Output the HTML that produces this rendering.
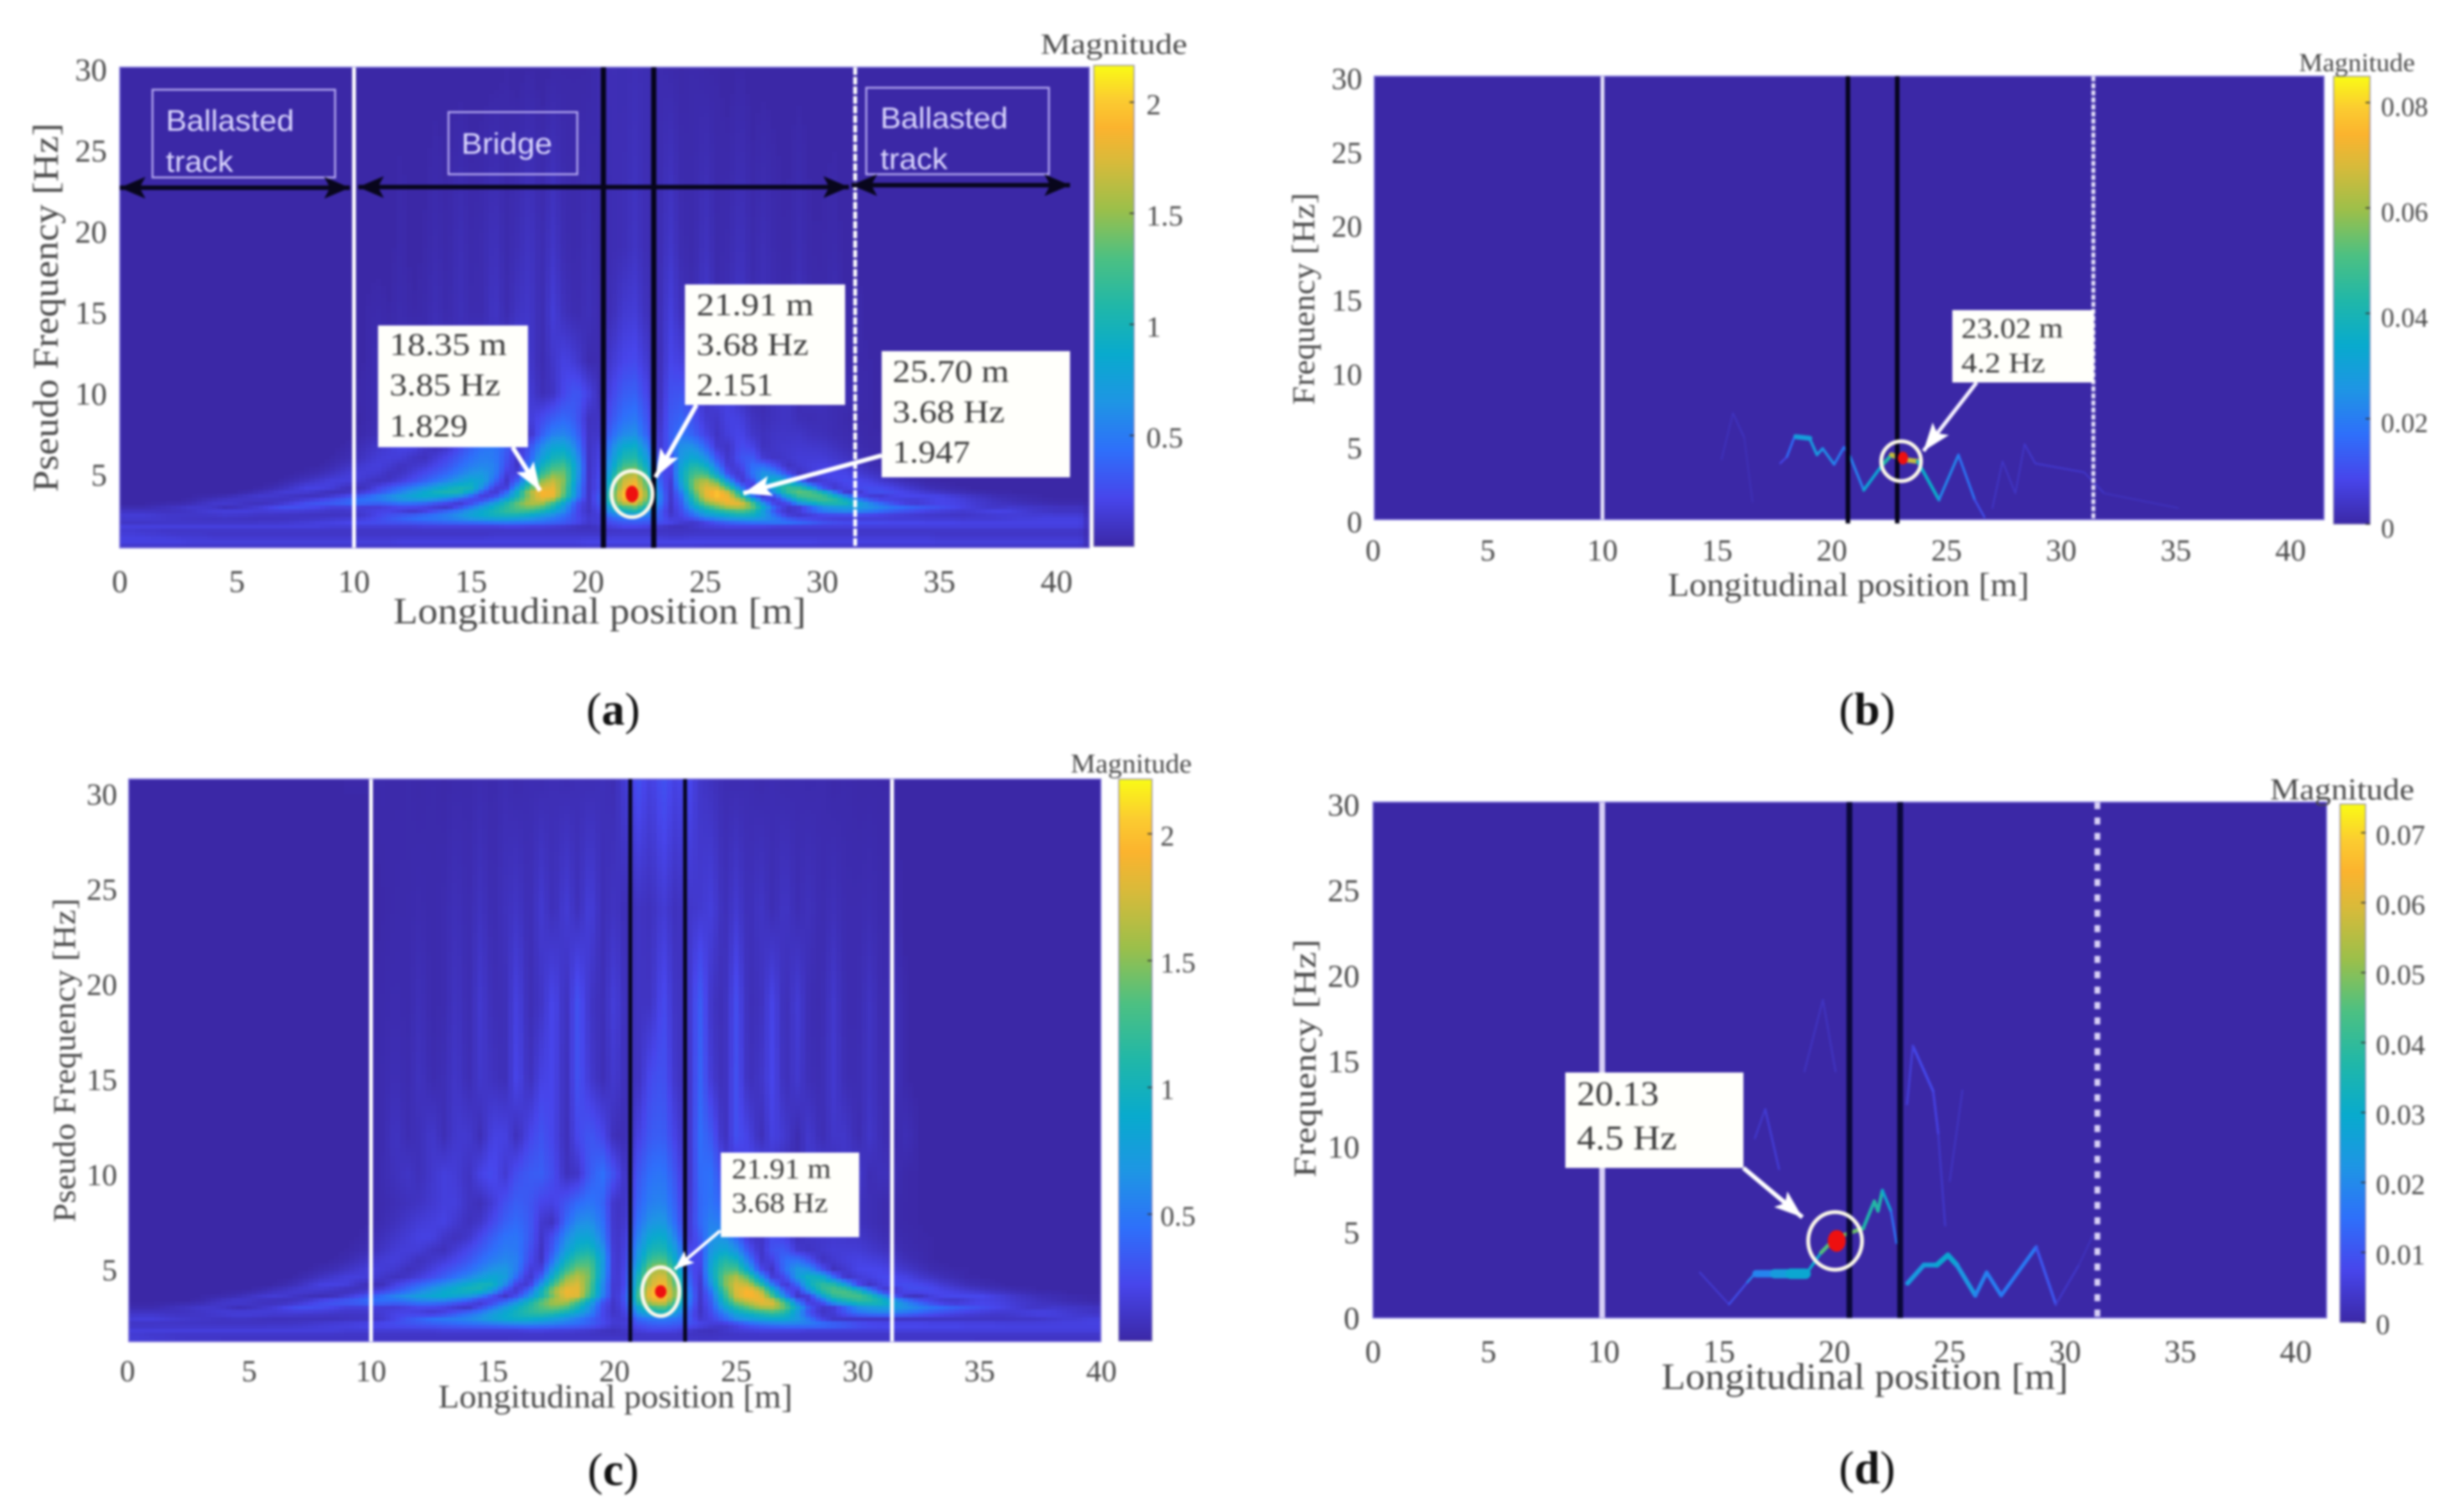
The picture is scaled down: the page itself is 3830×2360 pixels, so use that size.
<!DOCTYPE html>
<html lang="en">
<head>
<meta charset="utf-8">
<title>Scalogram and spectrogram panels</title>
<style>
html,body{margin:0;padding:0;background:#fff}
svg{display:block;filter:blur(1.8px)}
text{font-family:"Liberation Serif",serif;fill:#4a4a4a}
.s{font-family:"Liberation Sans",sans-serif;fill:#dcd8ff;font-size:46px}
.n{fill:#3a3a3a}
.cap{fill:#111;font-size:72px}
</style>
</head>
<body>
<svg id="figure" xmlns="http://www.w3.org/2000/svg" width="3830" height="2360" viewBox="0 0 3830 2360">
<defs>
<linearGradient id="cb-grad" x1="0" y1="1" x2="0" y2="0"></linearGradient>
<marker id="m-black" markerUnits="userSpaceOnUse" markerWidth="40" markerHeight="34" viewBox="0 0 40 34" refX="40" refY="17" orient="auto-start-reverse"><path d="M40,17 L0,0 L9,17 L0,34 z" fill="#08061c"/></marker>
<marker id="m-white" markerUnits="userSpaceOnUse" markerWidth="44" markerHeight="32" viewBox="0 0 44 32" refX="44" refY="16" orient="auto"><path d="M44,16 L0,0 L9,16 L0,32 z" fill="#fff"/></marker>
<marker id="m-white-s" markerUnits="userSpaceOnUse" markerWidth="30" markerHeight="24" viewBox="0 0 30 24" refX="30" refY="12" orient="auto"><path d="M30,12 L0,0 L6,12 L0,24 z" fill="#fff"/></marker>
</defs>
<rect x="0" y="0" width="3830" height="2360" fill="#ffffff"/>
<g id="marks"></g>

<g>
  <g>
    <rect x="238" y="140" width="285" height="137" fill="none" stroke="#b4a8f0" stroke-width="3"/>
    <text class="s" x="259" y="204" textLength="200" lengthAdjust="spacingAndGlyphs">Ballasted</text>
    <text class="s" x="259" y="268" textLength="105" lengthAdjust="spacingAndGlyphs">track</text>
  </g>
  <g>
    <rect x="700" y="175" width="201" height="97" fill="none" stroke="#b4a8f0" stroke-width="3"/>
    <text class="s" x="720" y="240" textLength="142" lengthAdjust="spacingAndGlyphs">Bridge</text>
  </g>
  <g>
    <rect x="1352" y="137" width="285" height="135" fill="none" stroke="#b4a8f0" stroke-width="3"/>
    <text class="s" x="1374" y="200" textLength="199" lengthAdjust="spacingAndGlyphs">Ballasted</text>
    <text class="s" x="1374" y="264" textLength="105" lengthAdjust="spacingAndGlyphs">track</text>
  </g>
  <line x1="187" y1="293" x2="546" y2="293" stroke="#08061c" stroke-width="7" marker-start="url(#m-black)" marker-end="url(#m-black)"/>
  <line x1="559" y1="292" x2="1325" y2="292" stroke="#08061c" stroke-width="7" marker-start="url(#m-black)" marker-end="url(#m-black)"/>
  <line x1="1329" y1="289" x2="1670" y2="289" stroke="#08061c" stroke-width="7" marker-start="url(#m-black)" marker-end="url(#m-black)"/>
  <line x1="800" y1="698" x2="843" y2="766" stroke="#fff" stroke-width="7" marker-end="url(#m-white)"/>
  <line x1="1087" y1="632" x2="1023" y2="745" stroke="#fff" stroke-width="7" marker-end="url(#m-white)"/>
  <line x1="1376" y1="711" x2="1160" y2="770" stroke="#fff" stroke-width="7" marker-end="url(#m-white)"/>
  <g>
    <rect x="590" y="508" width="234" height="190" fill="#fffffb"/>
    <text class="n" x="608" y="554" font-size="50" textLength="183" lengthAdjust="spacingAndGlyphs">18.35 m</text>
    <text class="n" x="608" y="617" font-size="50" textLength="173" lengthAdjust="spacingAndGlyphs">3.85 Hz</text>
    <text class="n" x="608" y="681" font-size="50" textLength="122" lengthAdjust="spacingAndGlyphs">1.829</text>
  </g>
  <g>
    <rect x="1069" y="444" width="250" height="188" fill="#fffffb"/>
    <text class="n" x="1087" y="492" font-size="50" textLength="183" lengthAdjust="spacingAndGlyphs">21.91 m</text>
    <text class="n" x="1087" y="554" font-size="50" textLength="175" lengthAdjust="spacingAndGlyphs">3.68 Hz</text>
    <text class="n" x="1087" y="617" font-size="50" textLength="120" lengthAdjust="spacingAndGlyphs">2.151</text>
  </g>
  <g>
    <rect x="1376" y="548" width="294" height="197" fill="#fffffb"/>
    <text class="n" x="1393" y="596" font-size="50" textLength="182" lengthAdjust="spacingAndGlyphs">25.70 m</text>
    <text class="n" x="1393" y="659" font-size="50" textLength="175" lengthAdjust="spacingAndGlyphs">3.68 Hz</text>
    <text class="n" x="1393" y="722" font-size="50" textLength="121" lengthAdjust="spacingAndGlyphs">1.947</text>
  </g>
  <text x="1624" y="84" font-size="46" textLength="229" lengthAdjust="spacingAndGlyphs">Magnitude</text>
  <text x="614" y="973" font-size="58" textLength="644" lengthAdjust="spacingAndGlyphs">Longitudinal position [m]</text>
  <text transform="translate(90,768) rotate(-90)" font-size="56" textLength="576" lengthAdjust="spacingAndGlyphs">Pseudo Frequency [Hz]</text>
  <text class="cap" x="957" y="1131" text-anchor="middle">(<tspan font-weight="bold" class="cap">a</tspan>)</text>
</g>

<g>
  <line x1="3085" y1="597" x2="3002" y2="704" stroke="#f4f0ff" stroke-width="6" marker-end="url(#m-white)"/>
  <g>
    <rect x="3047" y="484" width="221" height="113" fill="#fffffb"/>
    <text class="n" x="3061" y="527" font-size="44" textLength="159" lengthAdjust="spacingAndGlyphs">23.02 m</text>
    <text class="n" x="3061" y="581" font-size="44" textLength="131" lengthAdjust="spacingAndGlyphs">4.2 Hz</text>
  </g>
  <text x="3588" y="111" font-size="40" textLength="181" lengthAdjust="spacingAndGlyphs">Magnitude</text>
  <text x="2603" y="930" font-size="52" textLength="564" lengthAdjust="spacingAndGlyphs">Longitudinal position [m]</text>
  <text transform="translate(2051,632) rotate(-90)" font-size="50" textLength="331" lengthAdjust="spacingAndGlyphs">Frequency [Hz]</text>
  <text class="cap" x="2914" y="1131" text-anchor="middle">(<tspan font-weight="bold" class="cap">b</tspan>)</text>
</g>

<g>
  <line x1="1124" y1="1921" x2="1053" y2="1981" stroke="#fff" stroke-width="5" marker-end="url(#m-white-s)"/>
  <g>
    <rect x="1125" y="1799" width="216" height="132" fill="#fffffb"/>
    <text class="n" x="1142" y="1839" font-size="44" textLength="155" lengthAdjust="spacingAndGlyphs">21.91 m</text>
    <text class="n" x="1142" y="1892" font-size="44" textLength="150" lengthAdjust="spacingAndGlyphs">3.68 Hz</text>
  </g>
  <text x="1671" y="1206" font-size="42" textLength="189" lengthAdjust="spacingAndGlyphs">Magnitude</text>
  <text x="684" y="2197" font-size="52" textLength="553" lengthAdjust="spacingAndGlyphs">Longitudinal position [m]</text>
  <text transform="translate(117,1908) rotate(-90)" font-size="50" textLength="506" lengthAdjust="spacingAndGlyphs">Pseudo Frequency [Hz]</text>
  <text class="cap" x="957" y="2318" text-anchor="middle">(<tspan font-weight="bold" class="cap">c</tspan>)</text>
</g>

<g>
  <line x1="2721" y1="1823" x2="2813" y2="1900" stroke="#fff" stroke-width="7" marker-end="url(#m-white)"/>
  <g>
    <rect x="2443" y="1674" width="278" height="149" fill="#fffffb"/>
    <text class="n" x="2461" y="1725" font-size="54" textLength="128" lengthAdjust="spacingAndGlyphs">20.13</text>
    <text class="n" x="2461" y="1794" font-size="54" textLength="156" lengthAdjust="spacingAndGlyphs">4.5 Hz</text>
  </g>
  <text x="3543" y="1248" font-size="48" textLength="225" lengthAdjust="spacingAndGlyphs">Magnitude</text>
  <text x="2593" y="2168" font-size="58" textLength="635" lengthAdjust="spacingAndGlyphs">Longitudinal position [m]</text>
  <text transform="translate(2053,1838) rotate(-90)" font-size="50" textLength="372" lengthAdjust="spacingAndGlyphs">Frequency [Hz]</text>
  <text class="cap" x="2914" y="2315" text-anchor="middle">(<tspan font-weight="bold" class="cap">d</tspan>)</text>
</g>
</svg>

<script>
// ---- axis tick values ----
const xTickValues = [0,5,10,15,20,25,30,35,40];
const yTicksA = [5,10,15,20,25,30];
const yTicksB = [0,5,10,15,20,25,30];
const yTicksC = [5,10,15,20,25,30];
const yTicksD = [0,5,10,15,20,25,30];
const cbarTicksA = [0.5,1,1.5,2];
const cbarLabelsA = ['0.5','1','1.5','2'];
const cbarTicksB = [0,0.02,0.04,0.06,0.08];
const cbarLabelsB = ['0','0.02','0.04','0.06','0.08'];
const cbarTicksC = [0.5,1,1.5,2];
const cbarLabelsC = ['0.5','1','1.5','2'];
const cbarTicksD = [0,0.01,0.02,0.03,0.04,0.05,0.06,0.07];
const cbarLabelsD = ['0','0.01','0.02','0.03','0.04','0.05','0.06','0.07'];

// ---- structural position markers (metres) ----
const solidLinesA = [10];
const dashLinesA = [31.4];
const blackLinesA = [20.65,22.8];
const solidLinesB = [10];
const dashLinesB = [31.4];
const blackLinesB = [20.7,22.85];
const solidLinesC = [10,31.4];
const dashLinesC = [];
const blackLinesC = [20.65,22.9];
const solidLinesD = [9.93];
const dashLinesD = [31.4];
const blackLinesD = [20.65,22.85];

// ---- picked peaks (metres, Hz) ----
const peakX = [21.87,23.1,21.9,20.1];
const peakF = [3.81,4.16,3.84,4.5];
const ringX = [21.87,23.02,21.9,20.03];
const ringF = [3.81,3.95,3.84,4.5];

// ---- scalogram low-frequency band (a) and (c) which share this structure ----
// magnitude x100, columns every 0.5 m from 0 m; trailing columns omitted are background
const heatFreqLow = [1.2,1.5,1.8,2.1,2.4,2.7,3.0,3.3,3.6,3.9,4.2,4.6,5.0,5.5,6,6.7];
const heatLow = [
[22,22,22,20,20,18,18,18,16,16, 16,16,16,16,16,16,16,16,16,16, 16,16,16,16,16,16,16,16,16,16, 16,16,18,18,18,18,18,18,18,18, 18,18,20,20,20,20,18,16,16,18, 18,18,18,18,18,18,18,18,18,18, 18,18,18,18,18,18,18,18,18,18, 16,16,16,16,16,16,16,16,16,16, 16,16,16],
[18,18,16,16,14,14,14,14,14,14, 14,14,14,14,14,14,14,14,14,14, 14,14,14,14,14,14,14,14,14,14, 14,14,14,14,14,14,14,14,14,14, 14,14,14,14,14,14,14,14,14,14, 14,14,14,14,14,14,14,14,14,14, 14,14,14,14,14,14,14,14,14,14, 14,14,14,14,14,14,14,14,14,14, 14,14,14],
[22,22,22,22,22,22,22,22,22,22, 22,22,22,22,22,22,22,22,20,20, 20,20,20,20,20,20,22,22,22,22, 22,22,22,24,24,22,22,20,18,14, 12,16,22,26,26,24,18,13,12,16, 20,22,24,24,24,24,22,22,22,22, 22,22,22,22,22,22,22,22,22,22, 22,22,22,22,22,22,22,22,22,22, 22,22,22],
[13,13,13,14,14,14,14,14,14,14, 14,14,15,15,16,18,20,22,24,26, 28,30,32,34,36,38,40,43,46,48, 50,53,56,58,56,54,50,46,40,30, 18,22,32,38,40,38,34,28,20,16, 24,36,44,50,54,56,58,56,50,44, 36,32,30,30,30,30,28,28,28,26, 26,26,24,24,24,24,24,24,24,24, 24,24,24],
[20,22,22,20,18,17,16,15,14,15, 14,13,12,12,12,12,12,12,13,14, 14,18,26,35,42,50,55,58,62,70, 82,90,96,95,90,80,68,55,42,28, 18,20,45,54,56,50,40,18,25,42, 65,75,85,90,90,75,52,25,15,14, 14,14,14,14,14,14,14,14,14,14, 14,14,14,15,15,16,18,20,20,22, 22,22,22],
[15,15,15,14,13,14,15,18,21,23, 23,22,20,20,19,18,17,16,15,15, 16,20,25,25,20,14,22,35,48,60, 78,92,105,118,122,115,100,82,60,28, 14,25,70,90,100,75,40,14,30,55, 85,100,112,125,112,75,30,14,20,35, 50,56,58,55,50,42,35,30,26,22, 20,18,17,20,24,26,24,20,17,15, 14,14,14],
[8,8,8,10,12,14,17,17,15,10, 12,16,20,26,32,32,30,26,22,22, 22,20,20,24,28,28,24,18,14,30, 50,72,95,115,135,145,135,105,70,30, 14,30,90,125,140,100,50,14,35,80, 115,140,160,165,140,85,35,16,20,42, 65,72,78,74,68,60,52,46,40,36, 32,28,24,20,16,15,17,16,15,14, 13,13,13],
[5,5,5,5,6,6,7,12,17,20, 17,12,10,10,14,22,32,38,42,46, 52,50,46,50,56,54,50,40,30,14, 24,45,70,105,140,165,165,130,85,35, 14,36,120,175,185,130,60,15,40,100, 150,170,190,185,130,55,15,30,78,100, 118,120,112,85,60,40,25,14,12,18, 24,24,22,18,16,13,11,9,8,7, 6,6,6],
[5,5,5,5,5,5,6,7,8,10, 14,18,20,18,14,11,10,12,20,28, 38,48,60,70,80,88,92,86,76,58, 32,14,32,65,105,150,185,180,125,60, 14,38,130,195,205,150,65,15,45,115, 175,195,185,130,60,15,22,78,118,130, 132,112,75,35,15,12,22,27,28,28, 28,24,20,16,13,10,9,8,7,6, 6,6,6],
[5,5,5,5,5,5,5,5,5,5, 6,8,12,16,20,20,18,14,10,12, 16,24,34,46,60,74,90,102,108,106, 78,32,14,45,100,160,190,185,135,65, 14,34,125,195,205,150,60,15,55,130, 180,198,170,100,35,18,72,118,138,135, 108,58,16,14,30,32,30,26,22,18, 15,12,10,8,7,6,6],
[5,5,5,5,5,5,5,5,5,5, 5,5,6,8,12,18,24,24,22,14, 10,12,24,34,44,55,66,80,94,104, 102,64,22,18,72,130,172,180,138,66, 14,30,115,178,195,138,52,15,72,145, 178,170,122,55,14,42,95,122,116,80, 28,14,24,28,30,28,24,18,14,10, 8,7,6],
[5,5,5,5,5,5,5,5,5,5, 5,5,5,5,7,10,14,18,22,22, 20,16,12,15,22,30,40,50,62,76, 88,80,44,14,42,100,150,168,145,74, 14,30,108,170,182,130,46,16,84,145, 165,135,70,18,28,74,102,94,48,14, 20,24,28,27,24,18,14,10,8,6, 6],
[5,5,5,5,5,5,5,5,5,5, 5,5,5,5,5,6,8,10,14,18, 22,20,18,12,15,22,30,38,46,58, 70,74,56,20,24,76,122,148,142,78, 14,28,95,155,165,115,38,20,92,130, 132,85,28,14,48,74,66,34,12,18, 26,27,26,20,16,12,8,7,6,6],
[5,5,5,5,5,5,5,5,5,5, 5,5,5,5,5,5,5,6,8,12, 16,20,22,18,12,16,20,27,35,46, 56,62,58,30,14,52,98,124,130,80, 14,26,80,128,135,92,32,24,85,115, 100,54,16,24,48,50,32,12,18,22, 24,22,20,15,10,8,6],
[5,5,5,5,5,5,5,5,5,5, 5,5,5,5,5,5,5,5,6,8, 10,15,20,21,20,14,12,20,28,38, 48,56,54,34,14,40,78,102,108,72, 14,24,72,108,112,78,28,28,74,90, 70,34,14,34,38,18,14,17,20,20, 20,17,14,11,8,7,6],
[5,5,5,5,5,5,5,5,5,5, 5,5,5,5,5,5,5,5,5,6, 8,12,16,20,24,24,16,12,16,28, 40,50,52,38,16,32,62,84,86,58, 14,22,60,90,95,60,16,36,68,68, 44,18,14,30,25,12,16,17,18,17, 16,13,10,8,7,6,6]
];

// ---- panel (a): rows below and above the shared band ----
const heatFreqBottomA = [0.5,0.9];
const heatBottomA = [
[14,14,14,14,14,14,14,14,14,14, 14,14,14,14,14,14,14,14,14,14, 14,14,14,14,14,14,14,14,14,14, 14,14,14,14,14,14,14,14,14,14, 16,16,16,16,16,16,16,16,16,16, 14,14,14,14,14,14,14,14,14,14, 14,14,14,14,14,14,14,14,14,14, 14,14,14,14,14,14,14,14,14,14, 14,14,14],
[24,24,24,24,24,24,22,22,22,22, 22,22,22,22,22,22,22,22,22,22, 22,22,22,22,24,24,24,24,24,24, 24,24,24,24,24,24,24,24,24,24, 26,26,26,26,26,26,26,26,26,26, 26,26,26,26,26,26,26,26,26,26, 24,24,24,24,24,24,24,24,24,24, 22,22,22,22,22,22,22,22,22,22, 22,22,22]
];
const heatFreqUpperA = [7.5,8.5,10,12,15,19,30];
const heatUpperA = [
[5,5,5,5,5,5,5,5,5,5, 5,5,5,5,5,5,5,5,5,5, 5,8,10,14,17,19,20,15,11,12, 22,32,38,32,16,12,38,56,60,44, 14,16,44,62,66,40,14,38,50,40, 24,14,22,26,16,12,15,15,15,12, 11,9,8,7,6,6],
[5,5,5,5,5,5,5,5,5,5, 5,5,5,5,5,5,5,5,5,5, 5,7,9,10,12,15,18,18,12,10, 16,24,32,28,22,20,28,38,44,36, 13,14,34,48,52,34,11,36,42,32, 18,16,24,22,13,10,13,14,10,9, 10,9,7,6,6],
[5,5,5,5,5,5,5,5,5,5, 5,5,5,5,5,5,5,5,5,5, 6,7,9,11,9,13,16,14,11,18, 20,13,22,26,26,20,10,14,28,36, 24,10,26,38,40,26,9,32,34,24, 14,22,22,12,8,8,13,15,9,12, 12,8,9,7,6],
[5,5,5,5,5,5,5,5,5,5, 5,5,5,5,5,5,5,5,5,5, 5,6,9,8,8,12,8,12,12,8, 15,15,8,17,22,17,8,16,24,18, 8,8,18,26,28,18,8,26,22,8, 20,15,8,15,12,7,11,7,10,10, 6,9,6,6,6],
[5,5,5,5,5,5,5,5,5,5, 5,5,5,5,5,5,5,5,5,5, 5,6,7,6,8,6,7,10,7,11, 8,8,15,8,14,16,8,20,11,8, 11,8,10,18,20,11,8,22,11,8, 17,8,10,15,8,11,8,7,11,7, 6,9,6,7],
[5,5,5,5,5,5,5,5,5,5, 5,5,5,5,5,5,5,5,5,5, 5,5,5,5,7,5,6,8,6,10, 7,8,12,7,10,14,8,15,8,7, 10,7,9,10,14,9,8,16,8,7, 13,7,8,12,7,10,7,6,9,6, 6,7],
[5,5,5,5,5,5,5,5,5,5, 5,5,5,5,5,5,5,5,5,5, 5,5,5,5,5,5,5,5,5,5, 5,5,5,6,5,6,5,6,6,6, 6,8,10,9,10,9,8,7,6,7, 6,6,5,6]
];

// ---- panel (c): rows above the shared band ----
const heatFreqUpperC = [7.5,8.5,10,12,15,19,24,31];
const heatUpperC = [
[5,5,5,5,5,5,5,5,5,5, 5,5,5,5,5,5,5,5,5,5, 6,9,12,16,20,22,24,18,12,16, 28,40,46,38,18,12,44,64,68,50, 14,18,50,70,74,46,14,44,60,50, 24,12,22,26,14,10,14,15,16,14, 12,10,8,7,6,6],
[5,5,5,5,5,5,5,5,5,5, 5,5,5,5,5,5,5,5,5,5, 6,8,10,12,14,18,22,22,14,11, 20,32,40,36,26,24,34,46,52,44, 14,16,42,58,60,40,12,44,52,38, 14,14,24,20,9,9,14,15,10,9, 12,10,8,7,6,6],
[5,5,5,5,5,5,5,5,5,5, 5,5,5,5,5,5,5,5,5,5, 6,9,12,15,11,17,22,20,13,25, 30,18,32,38,40,30,12,15,38,50, 32,12,36,50,52,34,10,46,50,24, 14,28,30,13,8,8,17,20,10,15, 17,9,12,9,6,6],
[5,5,5,5,5,5,5,5,5,5, 5,5,5,5,5,5,5,5,5,5, 6,8,14,9,11,17,10,18,18,10, 24,24,11,26,34,26,10,28,36,28, 10,10,24,38,40,24,10,48,36,10, 32,24,10,24,18,8,18,9,16,16, 8,16,9,7,10,6],
[5,5,5,5,5,5,5,5,5,5, 5,5,5,5,5,5,5,5,5,5, 6,8,10,8,13,8,10,16,9,17, 13,10,27,11,24,27,10,34,18,10, 18,10,14,30,34,16,10,44,18,10, 32,11,15,27,10,18,10,9,18,9, 9,14,8,11,6],
[5,5,5,5,5,5,5,5,5,5, 5,5,5,5,5,5,5,5,5,5, 6,7,8,7,11,7,8,14,8,18, 10,10,24,9,15,28,11,34,15,10, 22,10,14,14,30,14,13,40,14,10, 30,10,12,26,9,20,9,8,17,8, 8,14,7,11,6],
[5,5,5,5,5,5,5,5,5,5, 5,5,5,5,5,5,5,5,5,5, 5,6,7,7,8,7,8,11,8,13, 8,12,15,9,18,10,20,11,22,10, 14,10,14,12,20,12,16,18,22,10, 18,10,15,9,15,9,12,8,11,8, 8,9,7,7,5],
[5,5,5,5,5,5,5,5,5,5, 5,5,5,5,5,5,5,5,6,6, 6,7,6,7,6,7,6,7,7,8, 7,9,7,9,8,10,8,10,9,11, 9,22,32,22,34,24,30,16,12,9, 8,9,7,9,7,8,7,8,6,7, 6,6,6,6]
];

const heatFreqA = heatFreqBottomA.concat(heatFreqLow,heatFreqUpperA);
const heatA = heatBottomA.concat(heatLow,heatUpperA);
const heatFreqC = heatFreqLow.concat(heatFreqUpperC);
const heatC = heatLow.concat(heatUpperC);

// ---- ridge traces (b) ----
const ridgeBx = [17.75,18.04,18.39,19.04,19.35,19.6,20.1,20.53,20.8,21.39,22.17,22.6,23.1,23.74,24.67,25.52,26.23,26.65];
const ridgeBf = [3.81,4.25,5.68,5.46,4.38,4.81,3.73,4.9,4.25,1.99,3.64,4.38,4.07,3.94,1.34,4.38,1.34,0.17];
const ridgeBm = [0.006,0.012,0.022,0.03,0.025,0.028,0.02,0.02,0.015,0.028,0.035,0.05,0.08,0.05,0.02,0.025,0.012,0.01];
const plateauBx = [18.45,19.04];
const plateauBf = [5.6,5.5];
const plateauBm = [0.028,0.03];
const faintB1x = [15.19,15.69,16.18,16.54];
const faintB1f = [4.07,7.2,5.55,1.2];
const faintB1m = [0.002,0.004,0.003,0.002];
const faintB2x = [27.0,27.44,28.0,28.4,28.87,31.0,31.87,35.1];
const faintB2f = [0.78,3.94,1.78,5.1,3.8,3.2,1.78,0.78];
const faintB2m = [0.003,0.005,0.003,0.005,0.005,0.005,0.004,0.002];

// ---- ridge traces (d) ----
const ridgeD1x = [14.16,15.43,16.23,16.55,18.78,19.42,20.05,21.25,21.73,21.89,22.08,22.45,22.69];
const ridgeD1f = [2.66,0.79,2.09,2.58,2.58,3.81,4.68,5.24,6.82,6.25,7.45,6.25,4.38];
const ridgeD1m = [0.004,0.006,0.013,0.024,0.028,0.03,0.06,0.035,0.038,0.038,0.036,0.02,0.012];
const plateauDx = [16.6,17.4,18.1,18.75];
const plateauDf = [2.58,2.58,2.58,2.58];
const plateauDm = [0.016,0.022,0.027,0.03];
const ridgeD2x = [23.17,23.88,24.44,24.92,25.31,26.11,26.6,27.23,28.75,29.6,30.6,31.2];
const ridgeD2f = [2.02,3.09,3.09,3.67,3.09,1.31,2.66,1.31,4.14,0.79,3.09,4.8];
const ridgeD2m = [0.024,0.024,0.027,0.03,0.026,0.02,0.018,0.018,0.016,0.005,0.003,0.002];
const faintD1x = [24.8,24.5,24.28,23.4,23.15];
const faintD1f = [5.4,10.8,13.26,15.9,12.5];
const faintD1m = [0.003,0.005,0.008,0.008,0.003];
const faintD2x = [18.7,19.5,20.05];
const faintD2f = [14.4,18.6,14.4];
const faintD2m = [0.002,0.004,0.002];
const faintD3x = [16.55,17.0,17.6];
const faintD3f = [10.5,12.2,8.7];
const faintD3m = [0.003,0.005,0.005];
const faintD4x = [25.0,25.55];
const faintD4f = [8.0,13.3];
const faintD4m = [0.003,0.003];

// ---- colormap ----
const cmapPos = [0,0.1,0.2,0.3,0.4,0.5,0.6,0.7,0.8,0.87,0.93,1];
const cmapHex = ['#3b28a6','#4745eb','#2e6ffa','#1e95e4','#08aacd','#20b7a8','#4cc082','#9bbf4a','#d8ba3a','#fbb32e','#fbcc30','#f9fb15'];
const cmapRgb = cmapHex.map(function(h){return [parseInt(h.substr(1,2),16),parseInt(h.substr(3,2),16),parseInt(h.substr(5,2),16)];});
function colormap(t){
  t=Math.max(0,Math.min(1,t));
  var i=0;
  while(i<cmapPos.length-2&&t>cmapPos[i+1])i++;
  var u=(t-cmapPos[i])/(cmapPos[i+1]-cmapPos[i]);
  var a=cmapRgb[i],b=cmapRgb[i+1];
  return 'rgb('+Math.round(a[0]+(b[0]-a[0])*u)+','+Math.round(a[1]+(b[1]-a[1])*u)+','+Math.round(a[2]+(b[2]-a[2])*u)+')';
}

const NS='http://www.w3.org/2000/svg';
function mk(tag,parent,attrs){
  var e=document.createElementNS(NS,tag);
  for(var k in attrs)e.setAttribute(k,attrs[k]);
  parent.appendChild(e);
  return e;
}

// colorbar gradient
var gradEl=document.getElementById('cb-grad');
cmapPos.forEach(function(p,i){
  mk('stop',gradEl,{offset:p,'stop-color':cmapHex[i]});
});

function sampleHeat(rows,freqs,x,f){
  var c=x/0.5,ci=Math.max(0,Math.floor(c)),cu=c-ci;
  var r=0;
  if(f<=freqs[0]){r=0;}
  else{while(r<freqs.length-2&&f>freqs[r+1])r++;}
  var ru=Math.max(0,Math.min(1,(f-freqs[r])/(freqs[r+1]-freqs[r])));
  function at(row,i){var v=row[i];return v===undefined?5:v;}
  var a=at(rows[r],ci)*(1-cu)+at(rows[r],ci+1)*cu;
  var b=at(rows[r+1],ci)*(1-cu)+at(rows[r+1],ci+1)*cu;
  return a*(1-ru)+b*ru;
}

function drawHeat(g,p,rows,freqs){
  var frag=document.createDocumentFragment();
  var vTop=(p.vmax*100);
  for(var py=p.top;py<p.bottom;py+=6){
    for(var px=p.left;px<p.right;px+=8){
      var v=sampleHeat(rows,freqs,p.invX(px+4),p.invY(py+3));
      var t=(v-5)/(vTop-5);
      if(t<0.004)continue;
      var cell=document.createElementNS(NS,'rect');
      cell.setAttribute('x',px);
      cell.setAttribute('y',py);
      cell.setAttribute('width',Math.min(8,p.right-px));
      cell.setAttribute('height',Math.min(6,p.bottom-py));
      cell.setAttribute('fill',colormap(t));
      cell.setAttribute('shape-rendering','crispEdges');
      
      
      frag.appendChild(cell);
    }
  }
  g.appendChild(frag);
}

function drawRidge(g,p,xs,fs,ms,k){
  for(var i=0;i<xs.length-1;i++){
    var m=(ms[i]+ms[i+1])/2;
    var seg=mk('line',g,{x1:p.x(xs[i]),y1:p.y(fs[i]),x2:p.x(xs[i+1]),y2:p.y(fs[i+1]),stroke:colormap(m/p.vmax),'stroke-width':2+k*m,'stroke-linecap':'round'});
    
    
  }
}

function drawPanel(p){
  var root=document.getElementById('marks');
  var g=mk('g',root,{});
  
  

  var bg=mk('rect',g,{x:p.left,y:p.top,width:p.right-p.left,height:p.bottom-p.top,fill:cmapHex[0]});
  
  

  if(p.rows)drawHeat(g,p,p.rows,p.freqs);
  (p.ridges||[]).forEach(function(r){drawRidge(g,p,r[0],r[1],r[2],r[3]);});

  var frame=mk('rect',g,{x:p.left,y:p.top,width:p.right-p.left,height:p.bottom-p.top,fill:'none',stroke:'#7d72d8','stroke-width':2});
  
  

  p.solid.forEach(function(v){
    var l=mk('line',g,{x1:p.x(v),x2:p.x(v),y1:p.top,y2:p.bottom,stroke:p.whiteColor,'stroke-width':p.whiteW});
    
    
  });
  p.dash.forEach(function(v){
    var l=mk('line',g,{x1:p.x(v),x2:p.x(v),y1:p.top,y2:p.bottom,stroke:p.whiteColor,'stroke-width':p.whiteW,'stroke-dasharray':p.dashPat});
    
    
  });
  p.black.forEach(function(v){
    var l=mk('line',g,{x1:p.x(v),x2:p.x(v),y1:p.top,y2:p.bottom+p.blackExt,stroke:p.blackColor,'stroke-width':p.blackW});
    
    
  });

  var ring=mk('ellipse',g,{cx:p.x(ringX[p.idx]),cy:p.y(ringF[p.idx]),rx:p.ringRx,ry:p.ringRy,fill:'none',stroke:'#fbf8ea','stroke-width':6});
  
  
  var dot=mk('ellipse',g,{cx:p.x(peakX[p.idx]),cy:p.y(peakF[p.idx]),rx:p.dotRx,ry:p.dotRy,fill:'#ee1010'});
  
  

  xTickValues.forEach(function(v){
    var t=mk('text',g,{x:p.x(v),y:p.xTickY+17,'font-size':p.tickFont,'text-anchor':'middle'});
    t.textContent=String(v);
    
    
  });
  p.yTicks.forEach(function(v){
    var t=mk('text',g,{x:p.yTickX,y:p.y(v)+p.yOff+17,'font-size':p.tickFont,'text-anchor':'end'});
    t.textContent=String(v);
    
    
  });

  var cb=mk('rect',g,{x:p.cbL,y:p.cbT,width:p.cbR-p.cbL,height:p.cbB-p.cbT,fill:'url(#cb-grad)',stroke:'#8d86b8','stroke-width':1.5});
  
  
  p.cbTicks.forEach(function(v,i){
    var yy=p.cbB-(v/p.vmax)*(p.cbB-p.cbT);
    var tick=mk('line',g,{x1:p.cbR-7,x2:p.cbR,y1:yy,y2:yy,stroke:'#333','stroke-width':2});
    
    
    var lab=mk('text',g,{x:p.cbLabX,y:yy+p.cbOff+16,'font-size':p.cbFont});
    lab.textContent=p.cbLabels[i];
    
    
  });
}

drawPanel({id:'a',idx:0,
  x:function(v){return 187+36.55*v;},y:function(f){return 741-25.3*(f-5);},
  invX:function(px){return (px-187)/36.55;},invY:function(py){return 5-(py-741)/25.3;},
  left:187,right:1700,top:105,bottom:855,vmax:2.166,rows:heatA,freqs:heatFreqA,
  solid:solidLinesA,dash:dashLinesA,black:blackLinesA,
  whiteColor:'#ffffff',whiteW:6,dashPat:'12 3',blackColor:'#05041a',blackW:8,blackExt:0,
  ringRx:32,ringRy:36,dotRx:10,dotRy:13,
  xTickY:907,tickFont:50,yTicks:yTicksA,yTickX:167,yOff:0,
  cbL:1707,cbR:1770,cbT:102,cbB:853,cbTicks:cbarTicksA,cbLabels:cbarLabelsA,cbLabX:1789,cbOff:3,cbFont:46});

drawPanel({id:'b',idx:1,
  x:function(v){return 2143+35.8*v;},y:function(f){return 811-23.07*f;},
  invX:function(px){return (px-2143)/35.8;},invY:function(py){return (811-py)/23.07;},
  left:2145,right:3627,top:119,bottom:811,vmax:0.085,
  ridges:[[faintB1x,faintB1f,faintB1m,100],[faintB2x,faintB2f,faintB2m,100],[ridgeBx,ridgeBf,ridgeBm,90],[plateauBx,plateauBf,plateauBm,200]],
  solid:solidLinesB,dash:dashLinesB,black:blackLinesB,
  whiteColor:'#e4e0f8',whiteW:6,dashPat:'8 3',blackColor:'#05041a',blackW:7,blackExt:6,
  ringRx:31,ringRy:31,dotRx:8,dotRy:10,
  xTickY:858,tickFont:48,yTicks:yTicksB,yTickX:2126,yOff:3,
  cbL:3642,cbR:3699,cbT:119,cbB:818,cbTicks:cbarTicksB,cbLabels:cbarLabelsB,cbLabX:3716,cbOff:5,cbFont:42});

drawPanel({id:'c',idx:2,
  x:function(v){return 199+38*v;},y:function(f){return 1981.5-29.7*(f-5);},
  invX:function(px){return (px-199)/38;},invY:function(py){return 5-(py-1981.5)/29.7;},
  left:201,right:1718,top:1216,bottom:2094,vmax:2.216,rows:heatC,freqs:heatFreqC,
  solid:solidLinesC,dash:dashLinesC,black:blackLinesC,
  whiteColor:'#ffffff',whiteW:6,dashPat:'',blackColor:'#05041a',blackW:6,blackExt:0,
  ringRx:29,ringRy:38,dotRx:9,dotRy:10,
  xTickY:2139,tickFont:48,yTicks:yTicksC,yTickX:183,yOff:0,
  cbL:1746,cbR:1798,cbT:1216,cbB:2093,cbTicks:cbarTicksC,cbLabels:cbarLabelsC,cbLabX:1811,cbOff:2,cbFont:44});

drawPanel({id:'d',idx:3,
  x:function(v){return 2143+36*v;},y:function(f){return 2057-26.7*f;},
  invX:function(px){return (px-2143)/36;},invY:function(py){return (2057-py)/26.7;},
  left:2143,right:3631,top:1252,bottom:2057,vmax:0.0741,
  ridges:[[faintD1x,faintD1f,faintD1m,250],[faintD2x,faintD2f,faintD2m,250],[faintD3x,faintD3f,faintD3m,250],[faintD4x,faintD4f,faintD4m,250],[ridgeD1x,ridgeD1f,ridgeD1m,90],[plateauDx,plateauDf,plateauDm,500],[ridgeD2x,ridgeD2f,ridgeD2m,220]],
  solid:solidLinesD,dash:dashLinesD,black:blackLinesD,
  whiteColor:'#d8d0f6',whiteW:9,dashPat:'11 13',blackColor:'#0a0838',blackW:9,blackExt:0,
  ringRx:42,ringRy:45,dotRx:14,dotRy:17,
  xTickY:2109,tickFont:50,yTicks:yTicksD,yTickX:2122,yOff:0,
  cbL:3652,cbR:3692,cbT:1255,cbB:2064,cbTicks:cbarTicksD,cbLabels:cbarLabelsD,cbLabX:3708,cbOff:2,cbFont:44});
</script>
</body>
</html>
